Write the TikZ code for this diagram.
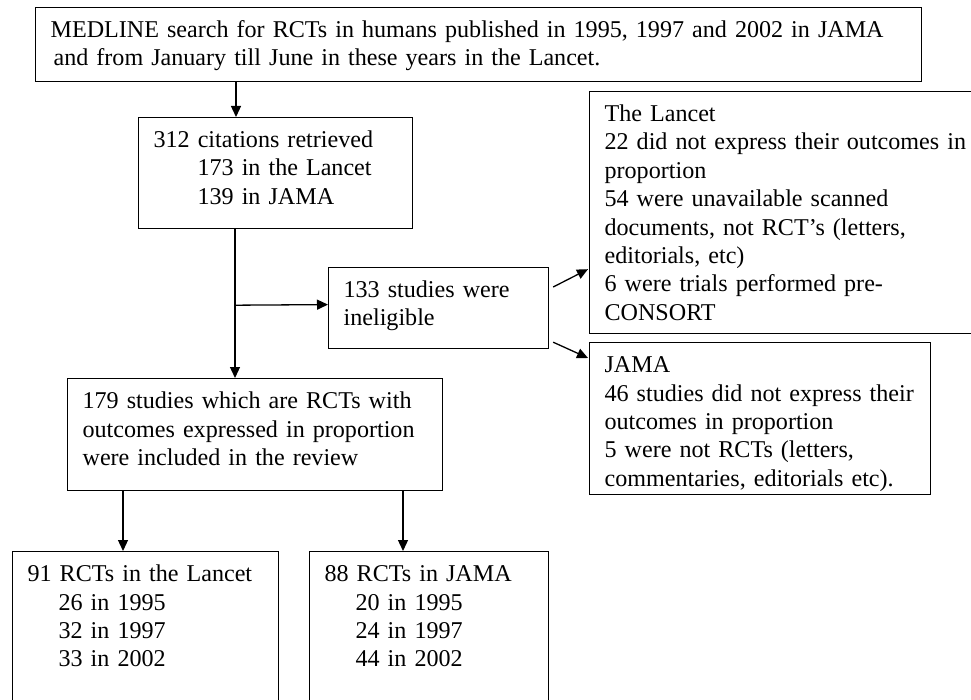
\documentclass[tikz,border=0pt]{standalone}
\usepackage{fontspec}
\setmainfont{Liberation Serif}
\usetikzlibrary{arrows.meta}

\begin{document}
\begin{tikzpicture}[x=1pt, y=-1pt,
    stage/.style={draw, line width=1.2pt, anchor=north west, align=left,
      inner xsep=15pt, inner ysep=0pt, text height=30pt,
      font=\fontsize{24.1pt}{28.4pt}\selectfont},
    flow/.style={line width=1.3pt, -{Triangle[length=11pt,width=10pt]}}]
  \useasboundingbox (0,0) rectangle (971,700);

  \node[stage, text width=856pt, text depth=44pt] (search) at (35,7)
    {MEDLINE search for RCTs in humans published in 1995, 1997 and 2002 in JAMA\\
     \hspace*{3pt}and from January till June in these years in the Lancet.};
  \node[stage, text width=244pt, text depth=81pt] (citations) at (138,117)
    {312 citations retrieved\\
     \hspace*{44pt}173 in the Lancet\\
     \hspace*{44pt}139 in JAMA};
  \node[stage, text width=190pt, text depth=51pt] (ineligible) at (328,267)
    {133 studies were\\ ineligible};
  \node[stage, text width=390pt, text depth=212pt] (lancet) at (589,91)
    {The Lancet\\
     22 did not express their outcomes in\\
     proportion\\
     54 were unavailable scanned\\
     documents, not RCT's (letters,\\
     editorials, etc)\\
     6 were trials performed pre-\\
     CONSORT};
  \node[stage, text width=311pt, text depth=122pt] (jama) at (589,342)
    {JAMA\\
     46 studies did not express their\\
     outcomes in proportion\\
     5 were not RCTs (letters,\\
     commentaries, editorials etc).};
  \node[stage, text width=345pt, text depth=82pt] (included) at (67,378)
    {179 studies which are RCTs with\\
     outcomes expressed in proportion\\
     were included in the review};
  \node[stage, text width=236pt, text depth=140pt] (lancet91) at (12,551)
    {91 RCTs in the Lancet\\
     \hspace*{31pt}26 in 1995\\
     \hspace*{31pt}32 in 1997\\
     \hspace*{31pt}33 in 2002};
  \node[stage, text width=209pt, text depth=140pt] (jama88) at (309,551)
    {88 RCTs in JAMA\\
     \hspace*{31pt}20 in 1995\\
     \hspace*{31pt}24 in 1997\\
     \hspace*{31pt}44 in 2002};

  \draw[flow] ([xshift=201pt]search.south west) -- ([xshift=98pt]citations.north west);
  \draw[flow] ([xshift=97pt]citations.south west) -- ([xshift=168pt]included.north west);
  \draw[flow] ([xshift=97pt,yshift=-76pt]citations.south west) -- ([yshift=3.5pt]ineligible.west);
  \draw[flow] ([xshift=4pt,yshift=-20pt]ineligible.north east) -- ([xshift=-1pt,yshift=65pt]lancet.south west);
  \draw[flow] ([xshift=4pt,yshift=7pt]ineligible.south east) -- ([xshift=-1pt,yshift=-16pt]jama.north west);
  \draw[flow] ([xshift=56pt]included.south west) -- ([xshift=111pt]lancet91.north west);
  \draw[flow] ([xshift=336pt]included.south west) -- ([xshift=94pt]jama88.north west);
\end{tikzpicture}
\end{document}
